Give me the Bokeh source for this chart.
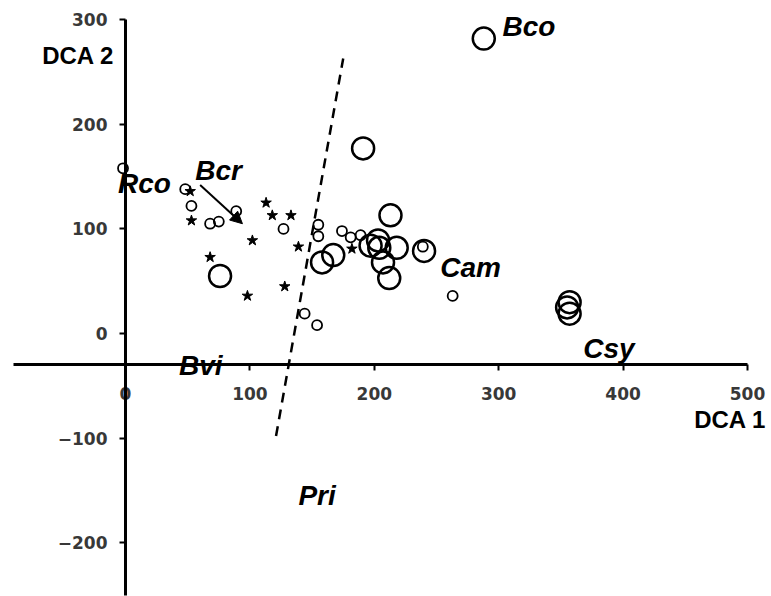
from bokeh.plotting import figure
from bokeh.models import Range1d, FixedTicker, Arrow, NormalHead, ColumnDataSource, Label
from bokeh.core.properties import value
from bokeh.embed import file_html
from bokeh.resources import INLINE

# ---- data (DCA site scores) ----
small_x = [-2, 48, 53, 68, 75, 89, 127, 155, 155, 174, 181, 189, 144, 154, 263, 239]
small_y = [158, 138, 122, 105, 107, 117, 100, 104, 93, 98, 92, 94, 19, 8, 36, 83]

large_x = [76, 158, 167, 191, 213, 197, 203, 204, 218, 207, 212, 240, 288, 357, 355, 357]
large_y = [55, 68, 75, 177, 113, 84, 89, 82, 82, 68, 53, 79, 282, 30, 25, 19]

star_x = [52, 53, 68, 102, 98, 113, 118, 133, 139, 128, 182]
star_y = [136, 108, 73, 89, 36, 125, 113, 113, 83, 45, 81]

species = ["Bco", "Rco", "Bcr", "Cam", "Csy", "Bvi", "Pri"]
species_x = [303, -6, 56, 253, 368, 43, 139]
species_y = [294, 143, 156, 63, -14, -31, -155]

boundary_x = [121, 175]
boundary_y = [-98, 263]

arrow_start = (60, 142)
arrow_end = (94, 105)

x_ticks = [0, 100, 200, 300, 400, 500]
y_ticks = [-200, -100, 0, 100, 200, 300]

p = figure(width=771, height=596, output_backend="svg", toolbar_location=None,
           x_range=Range1d(-100.5, 519.3), y_range=Range1d(-251.4, 318.4),
           min_border=0, min_border_left=0, min_border_right=0,
           min_border_top=0, min_border_bottom=0)
p.outline_line_color = None
p.xgrid.visible = False
p.ygrid.visible = False
p.background_fill_color = "white"
p.border_fill_color = "white"

# axes crossing inside the plot
xa = p.xaxis[0]
xa.fixed_location = -30
xa.bounds = (-90, 500)
xa.ticker = FixedTicker(ticks=x_ticks)
xa.axis_line_width = 3
xa.axis_line_color = "black"
xa.major_tick_line_width = 2
xa.major_tick_out = 6
xa.major_tick_in = 0
xa.minor_tick_line_color = None
xa.major_label_standoff = 16
xa.major_label_text_font = "DejaVu Sans"
xa.major_label_text_font_size = "17px"
xa.major_label_text_font_style = "bold"
xa.major_label_text_color = "#383838"

ya = p.yaxis[0]
ya.fixed_location = 0
ya.bounds = (-250, 300)
ya.ticker = FixedTicker(ticks=y_ticks)
ya.axis_line_width = 3
ya.axis_line_color = "black"
ya.major_tick_line_width = 2
ya.major_tick_out = 6
ya.major_tick_in = 0
ya.minor_tick_line_color = None
ya.major_label_standoff = 12
ya.major_label_text_font = "DejaVu Sans"
ya.major_label_text_font_size = "17px"
ya.major_label_text_font_style = "bold"
ya.major_label_text_color = "#383838"

# dashed boundary line
p.line(boundary_x, boundary_y, line_color="black", line_width=2.5, line_dash="10 7")

# points
p.scatter(small_x, small_y, marker="circle", size=10, fill_color=None,
          line_color="black", line_width=1.8)
p.scatter(large_x, large_y, marker="circle", size=22, fill_color=None,
          line_color="black", line_width=2.5)
p.scatter(star_x, star_y, marker="star", size=11, fill_color="black",
          line_color="black", line_width=1)

# arrow
p.add_layout(Arrow(end=NormalHead(size=12, fill_color="black", line_color="black"),
                   x_start=arrow_start[0], y_start=arrow_start[1],
                   x_end=arrow_end[0], y_end=arrow_end[1],
                   line_width=2, line_color="black"))

# species labels
src = ColumnDataSource(dict(x=species_x, y=species_y, t=species))
p.text(x="x", y="y", text="t", source=src, text_font=value("Liberation Sans"),
       text_font_size="28px", text_font_style="bold italic", text_color="black",
       text_align="left", text_baseline="middle")

# axis titles
p.add_layout(Label(x=-67, y=266, text="DCA 2", text_font="Liberation Sans",
                   text_font_size="24px", text_font_style="bold",
                   text_align="left", text_baseline="middle", text_color="black"))
p.add_layout(Label(x=515, y=-82, text="DCA 1", text_font="Liberation Sans",
                   text_font_size="24px", text_font_style="bold",
                   text_align="right", text_baseline="middle", text_color="black"))

open("out.html", "w").write(file_html(p, INLINE))
